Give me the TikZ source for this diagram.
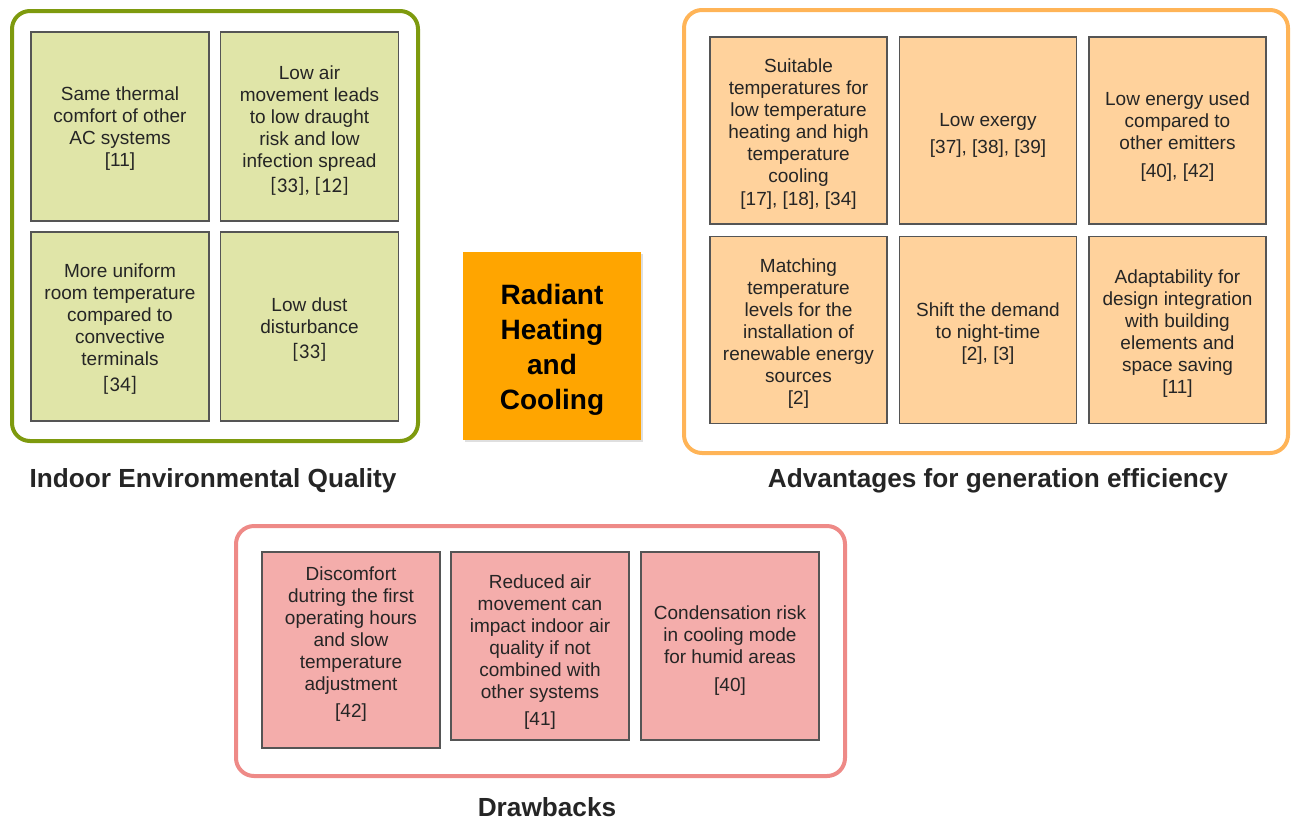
\documentclass[tikz,border=0pt]{standalone}
\usepackage{fontspec}
\setmainfont{Liberation Sans}
\newfontfamily\calfont{Carlito}
\usetikzlibrary{shadows}
\definecolor{gframe}{HTML}{7E9A0E}
\definecolor{gfill}{HTML}{E0E5A8}
\definecolor{oframe}{HTML}{FFB457}
\definecolor{ofill}{HTML}{FFD29C}
\definecolor{rframe}{HTML}{EE8A87}
\definecolor{rfill}{HTML}{F4ADAB}
\definecolor{bdr}{HTML}{555555}
\definecolor{txt}{HTML}{252525}
\definecolor{core}{HTML}{FFA500}
\newcommand{\rf}[1]{{\calfont\fontsize{21}{22}\selectfont #1}}
\tikzset{
  frame/.style={line width=4pt, rounded corners=18pt},
  ctext/.style={align=center, text=txt, inner sep=0pt,
    font=\fontsize{19}{22}\selectfont},
  cell/.style={draw=bdr, line width=1.5pt, inner sep=0pt,
    minimum width=178pt, minimum height=188pt},
  gcell/.style={cell, fill=gfill, minimum height=189pt},
  ocell/.style={cell, fill=ofill, minimum width=177pt, minimum height=187pt},
  rcell/.style={cell, fill=rfill},
  coretext/.style={align=center, inner sep=0pt, text=black,
    font=\bfseries\fontsize{28}{35}\selectfont},
  caption/.style={font=\bfseries\fontsize{26.2}{30}\selectfont, text=txt, inner sep=0pt}
}
\begin{document}
\begin{tikzpicture}[x=1pt,y=-1pt]
\useasboundingbox (0,0) rectangle (1292,820);
% frames
\draw[frame, gframe] (12,11) rectangle (418,441);
\draw[frame, oframe] (684,10) rectangle (1288,453);
\draw[frame, rframe] (236,526) rectangle (845,776);
% green cells
\node[gcell, label={[ctext, yshift=-2pt]center:{Same thermal\\comfort of other\\AC systems\\{[11]}}}] (g1) at (120,126.5) {};
\node[gcell, label={[ctext, yshift=-4pt]center:{Low air\\movement leads\\to low draught\\risk and low\\infection spread\\[3pt]\rf{[33], [12]}}}] (g2) at (309.5,126.5) {};
\node[gcell, label={[ctext, yshift=-3pt]center:{More uniform\\room temperature\\compared to\\convective\\terminals\\[4pt]\rf{[34]}}}] (g3) at (120,326.5) {};
\node[gcell, label={[ctext, yshift=-3pt]center:{Low dust\\disturbance\\[3pt]\rf{[33]}}}] (g4) at (309.5,326.5) {};
% orange cells
\node[ocell, label={[ctext, yshift=-4pt]center:{Suitable\\temperatures for\\low temperature\\heating and high\\temperature\\cooling\\[1pt]{[17], [18], [34]}}}] (o1) at (798.5,130.5) {};
\node[ocell, label={[ctext, yshift=-5pt]center:{Low exergy\\[5pt]{[37], [38], [39]}}}] (o2) at (988,130.5) {};
\node[ocell, label={[ctext, yshift=-6pt]center:{Low energy used\\compared to\\other emitters\\[6pt]{[40], [42]}}}] (o3) at (1177.5,130.5) {};
\node[ocell, label={[ctext, yshift=-4pt]center:{Matching\\temperature\\levels for the\\installation of\\renewable energy\\sources\\{[2]}}}] (o4) at (798.5,330) {};
\node[ocell, label={[ctext, yshift=-4pt]center:{Shift the demand\\to night-time\\{[2], [3]}}}] (o5) at (988,330) {};
\node[ocell, label={[ctext, yshift=-4pt]center:{Adaptability for\\design integration\\with building\\elements and\\space saving\\{[11]}}}] (o6) at (1177.5,330) {};
% centre
\node[draw=none, fill=core, minimum width=178pt, minimum height=188pt, inner sep=0pt,
  drop shadow={opacity=0.25, shadow xshift=2pt, shadow yshift=-2pt},
  label={[coretext, yshift=-4pt]center:{Radiant\\Heating\\and\\Cooling}}]
  (core) at (552,346) {};
% red cells
\node[rcell, minimum height=196pt, label={[ctext, yshift=6pt]center:{Discomfort\\dutring the first\\operating hours\\and slow\\temperature\\adjustment\\[5pt]{[42]}}}] (r1) at (351,650) {};
\node[rcell, label={[ctext, yshift=-6pt]center:{Reduced air\\movement can\\impact indoor air\\quality if not\\combined with\\other systems\\[5pt]{[41]}}}] (r2) at (540,646) {};
\node[rcell, label={[ctext, yshift=-5pt]center:{Condensation risk\\in cooling mode\\for humid areas\\[6pt]{[40]}}}] (r3) at (730,646) {};
% captions
\node[caption] (capg) at (213,481) {Indoor Environmental Quality};
\node[caption] (capo) at (998,481) {Advantages for generation efficiency};
\node[caption] (capr) at (547,807) {Drawbacks};
\end{tikzpicture}
\end{document}
